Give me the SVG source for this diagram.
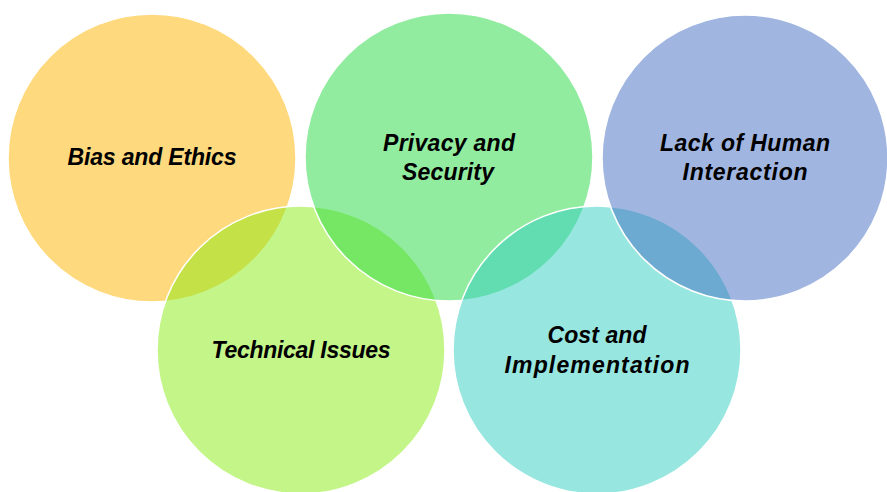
<svg xmlns="http://www.w3.org/2000/svg" width="887" height="492" viewBox="0 0 887 492">
  <style>
    .disc { stroke: #ffffff; stroke-width: 1.5; }
    .label { font-family: "Liberation Sans", Arial, sans-serif; font-size: 23px; font-weight: bold; font-style: italic; fill: #000000; text-anchor: middle; }
  </style>
  <rect x="0" y="0" width="887" height="492" fill="#ffffff"/>

  <!-- Discs are stacked left to right; each translucent disc tints the one beneath -->
  <g id="bias-and-ethics">
    <circle class="disc" cx="152" cy="158" r="144" fill="#FFD97D" stroke="none"/>
    <text class="label" x="152" y="165" textLength="169" lengthAdjust="spacing">Bias and Ethics</text>
  </g>

  <g id="technical-issues">
    <circle class="disc" cx="301" cy="350" r="144" fill="#89EB13" fill-opacity="0.5"/>
    <text class="label" x="301" y="358" textLength="179" lengthAdjust="spacing">Technical Issues</text>
  </g>

  <g id="privacy-and-security">
    <circle class="disc" cx="449" cy="157" r="144" fill="#25D941" fill-opacity="0.5"/>
    <text class="label" x="449" y="151" textLength="132" lengthAdjust="spacing">Privacy and</text>
    <text class="label" x="448" y="180" textLength="92" lengthAdjust="spacing">Security</text>
  </g>

  <g id="cost-and-implementation">
    <circle class="disc" cx="597" cy="350" r="144" fill="#31CDC1" fill-opacity="0.5"/>
    <text class="label" x="597" y="343" textLength="99" lengthAdjust="spacing">Cost and</text>
    <text class="label" x="597" y="373" textLength="185" lengthAdjust="spacing">Implementation</text>
  </g>

  <g id="lack-of-human-interaction">
    <circle class="disc" cx="745" cy="158" r="143" fill="#416DC1" fill-opacity="0.5"/>
    <text class="label" x="745" y="151" textLength="170" lengthAdjust="spacing">Lack of Human</text>
    <text class="label" x="745" y="180" textLength="125" lengthAdjust="spacing">Interaction</text>
  </g>

  <g id="connectors"/>
</svg>
